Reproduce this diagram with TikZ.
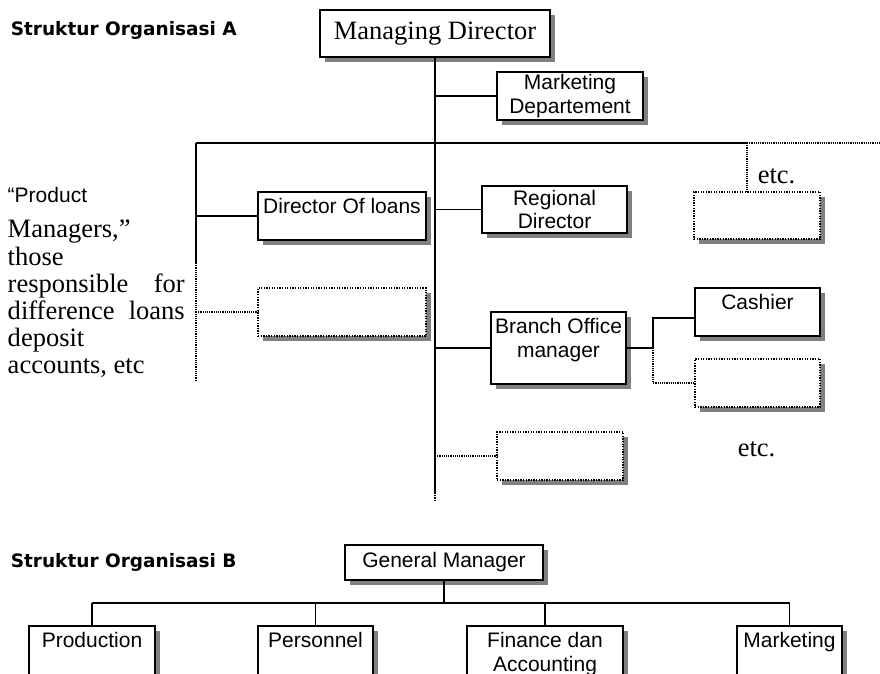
\documentclass[tikz,border=0pt]{standalone}
\usepackage{fontspec}
\setmainfont{Liberation Serif}
\newfontfamily\arialfont{Liberation Sans}
\newfontfamily\titlefont{DejaVu Sans}
\usepackage{tikz}
\usetikzlibrary{positioning,shadows}
\definecolor{shadowgray}{RGB}{128,128,128}

\begin{document}
\begin{tikzpicture}[x=1pt,y=-1pt,
    line width=1.5pt,
    box/.style={draw,line width=1.6pt,fill=white,inner sep=0pt,outer sep=0pt,anchor=north west,
      drop shadow={shadow xshift=5pt,shadow yshift=-5pt,fill=shadowgray,opacity=1}},
    ghost/.style={box,line width=1.5pt,dash pattern=on 1.3pt off 1.3pt},
    dots/.style={line width=1.1pt,dash pattern=on 1.1pt off 1.1pt},
    arial/.style={font=\arialfont\fontsize{21}{23.5}\selectfont},
    times/.style={font=\fontsize{26.5}{27.2}\selectfont},
    head/.style={font=\titlefont\bfseries\fontsize{18.5}{22}\selectfont,anchor=west,inner sep=0pt},
    toptext/.style={label={[arial,align=center,anchor=north,inner sep=0pt,yshift=-6pt]north:#1}}
  ]
  \path[use as bounding box,clip] (0,0) rectangle (880,673);

  \node[head] (titleA) at (10,30) {Struktur Organisasi A};
  \node[box,times,minimum width=230pt,minimum height=47pt] (md) at (320,10) {Managing Director};
  \node[box,arial,align=center,minimum width=146pt,minimum height=48pt] (mkt) at (497,72) {Marketing\\Departement};
  \node[box,minimum width=168pt,minimum height=48pt,toptext=Director Of loans] (dol) at (258,192) {};
  \node[ghost,minimum width=168pt,minimum height=48pt] (dolx) at (258,288) {};
  \node[box,arial,align=center,minimum width=145pt,minimum height=47pt] (reg) at (482,186) {Regional\\Director};
  \node[ghost,minimum width=126pt,minimum height=47pt] (etcx) at (694,192) {};
  \node[times,anchor=base west,inner sep=0pt] (etca) at (757,183) {etc.};
  \node[box,minimum width=135pt,minimum height=72pt,toptext={Branch Office\\manager}] (bom) at (491,312) {};
  \node[box,minimum width=125pt,minimum height=48pt,toptext=Cashier] (cash) at (695,288) {};
  \node[ghost,minimum width=125pt,minimum height=48pt] (cashx) at (695,359) {};
  \node[ghost,minimum width=126pt,minimum height=48pt] (mainx) at (497,432) {};
  \node[times,anchor=base west,inner sep=0pt] (etcb) at (737,456) {etc.};
  \node[times,anchor=north west,inner sep=0pt,align=left] (note) at (7,187)
    {{\arialfont\fontsize{21}{23.5}\selectfont “Product}\\[7.8pt]
     Managers,”\\ those\\ \makebox[177pt][s]{responsible for}\\
     \makebox[177pt][s]{difference loans}\\ deposit\\ accounts, etc};

  \coordinate (barL) at (196,143);
  \coordinate (barR) at (747,143);
  \coordinate (barE) at (880,143);
  \coordinate (leftS) at (196,263);
  \coordinate (leftE) at (196,380);
  \coordinate (mainS) at (435,493);
  \coordinate (mainE) at (435,500);

  \draw (md.south) -- (mainS);
  \draw[dots] (mainS) -- (mainE);
  \draw (md.south |- mkt.west) -- (mkt.west);
  \draw (barL) -- (barR);
  \draw[dots] (barR) -- (barE);
  \draw[dots] (barR) -- (barR |- etcx.north);
  \draw (barL) -- (leftS);
  \draw[dots] (leftS) -- (leftE);
  \draw (barL |- dol.west) -- (dol.west);
  \draw[dots] (barL |- dolx.west) -- (dolx.west);
  \draw (md.south |- reg.west) -- (reg.west);
  \draw (md.south |- bom.west) -- (bom.west);
  \draw (bom.east) -- ++(27,0) coordinate (bomj) |- ([yshift=-6pt]cash.west);
  \draw[dots] (bomj) |- (cashx.west);
  \draw[dots] (md.south |- mainx.west) -- (mainx.west);

  \node[head] (titleB) at (10,562) {Struktur Organisasi B};
  \node[box,arial,minimum width=198pt,minimum height=35pt] (gm) at (345,545) {General Manager};
  \node[box,minimum width=126pt,minimum height=80pt,toptext=Production] (prod) at (29,626) {};
  \node[box,minimum width=115pt,minimum height=80pt,toptext=Personnel] (pers) at (258,626) {};
  \node[box,minimum width=156pt,minimum height=80pt,toptext={Finance dan\\Accounting}] (fin) at (467,626) {};
  \node[box,minimum width=105pt,minimum height=80pt,toptext=Marketing] (mktb) at (737,626) {};
  \coordinate (gbar) at (446,603);
  \draw (gm.south) -- (gm.south |- gbar);
  \draw (prod.north |- gbar) -- (mktb.north |- gbar);
  \foreach \n in {prod,pers,fin,mktb}
    \draw (\n.north |- gbar) -- (\n.north);
\end{tikzpicture}
\end{document}
